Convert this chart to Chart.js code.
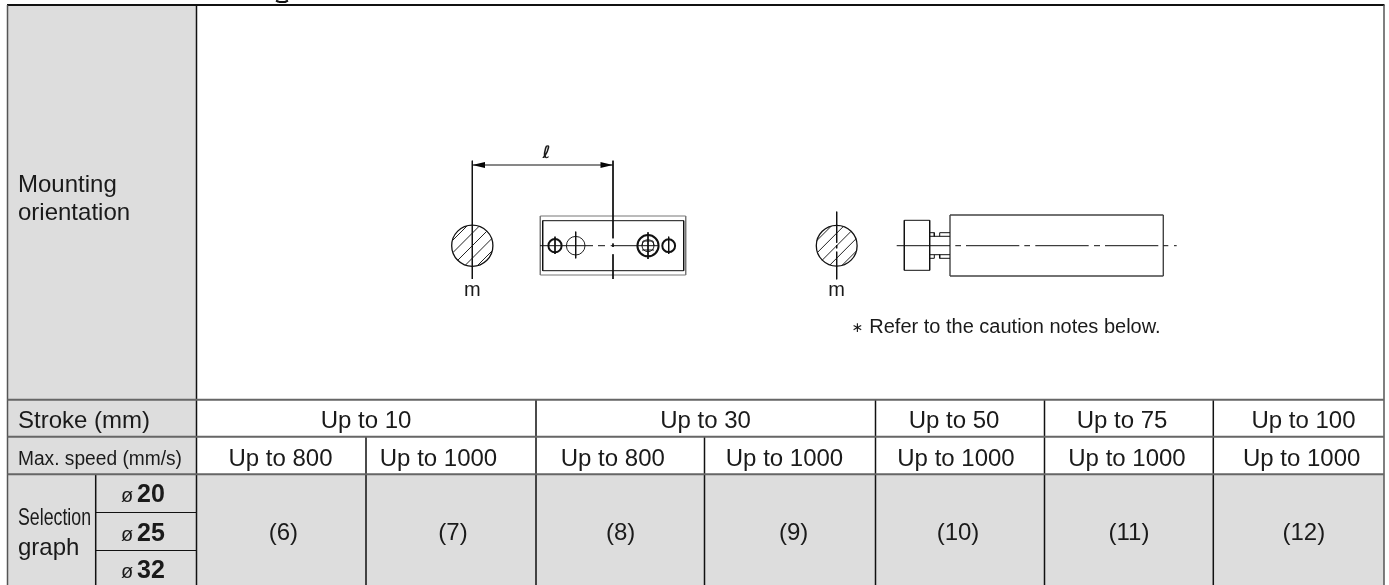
<!DOCTYPE html>
<html>
<head>
<meta charset="utf-8">
<style>
	html, body { margin: 0; padding: 0; background: #fff; }
	canvas { display: block; }
</style>
<script src="https://cdn.jsdelivr.net/npm/chart.js@4"></script>
</head>
<body>
<canvas id="mountingTable" width="1389" height="585"></canvas>
<script>
// table labels
var rowLabels = ['Mounting', 'orientation', 'Stroke (mm)', 'Max. speed (mm/s)', 'Selection', 'graph'];
var strokeLabels = ['Up to 10', 'Up to 30', 'Up to 50', 'Up to 75', 'Up to 100'];
var speedLabels = ['Up to 800', 'Up to 1000', 'Up to 800', 'Up to 1000', 'Up to 1000', 'Up to 1000', 'Up to 1000'];
var graphLabels = ['(6)', '(7)', '(8)', '(9)', '(10)', '(11)', '(12)'];
var boreLabels = ['20', '25', '32'];

// where the labels sit, in page units
var strokeCenters = [366, 705.5, 954, 1122, 1303.5];
var speedCenters = [280.5, 438.5, 612.8, 784.5, 956, 1127, 1301.7];
var graphCenters = [283.3, 453, 620.7, 793.7, 958, 1129, 1303.8];
var boreBaselines = [502, 540.5, 578];

// cell fills: x1, x2, top, bottom
var greyCells = [
	[7.5, 196.5, 6, 585],
	[196.5, 1384, 474, 585]
];

// table rules: x1, y1, x2, y2
var topRule = [[7, 5, 1384.5, 5]];
var greyRows = [[7.5, 399.7, 1384, 399.7], [7.5, 436.7, 1384, 436.7], [7.5, 474.3, 1384, 474.3]];
var outerEdges = [[7.5, 5, 7.5, 585], [1384, 5, 1384, 585]];
var columnRules = [
	[196.5, 5, 196.5, 585], [536, 400, 536, 585], [875.5, 400, 875.5, 585],
	[1044.5, 400, 1044.5, 585], [1213.3, 400, 1213.3, 585], [366, 437, 366, 585],
	[704.5, 437, 704.5, 585], [95.7, 474, 95.7, 585]
];
var boreRules = [[96, 512.5, 196, 512.5], [96, 550.5, 196, 550.5]];
var titleTail = [[276, 0.5, 279, 2], [279, 2, 285, 2], [285, 2, 288, 0.5]];

// left drawing (top view)
var topViewLines = [
	[472.3, 160.7, 472.3, 279], [613, 160.7, 613, 238.3], [613, 243.5, 613, 247], [613, 254.3, 613, 279],
	[472.3, 165, 613, 165],
	[542.7, 220.7, 683.7, 220.7], [542.7, 270.7, 683.7, 270.7], [542.7, 220.7, 542.7, 270.7], [683.7, 220.7, 683.7, 270.7],
	[540, 245.7, 593, 245.7], [598, 245.7, 605, 245.7], [610.7, 245.7, 637, 245.7],
	[555, 236.7, 555, 254], [575.7, 231.7, 575.7, 258.3], [648, 232.3, 648, 259], [668.7, 236.7, 668.7, 254],
	[637, 245.7, 659, 245.7], [643, 241, 653, 241], [642, 250, 654, 250], [642, 245.7, 643, 241], [653, 241, 654, 245.7]
];
var topViewFrame = [[540.3, 216, 685.7, 216], [540.3, 275, 685.7, 275], [540.3, 216, 540.3, 275], [685.7, 216, 685.7, 275]];
var leftHatch = [
	[452.5, 240.5, 467.1, 225.9], [453, 252.5, 479.1, 226.3], [457.8, 260.2, 486.8, 231.2],
	[465.5, 265, 491.6, 238.8], [477.5, 265.5, 492.1, 250.9]
];
// half triangles of the two arrow heads: x1, y1, x2, y2, base y
var arrowHeads = [
	[472.3, 165, 485, 162, 165], [472.3, 165, 485, 168, 165],
	[600.3, 162, 613, 165, 165], [600.3, 168, 613, 165, 165]
];

// right drawing (side view)
var sideViewLines = [
	[836.7, 211.7, 836.7, 242.7], [836.7, 245, 836.7, 248.3], [836.7, 251.7, 836.7, 279.3],
	[904.3, 220.3, 929.7, 220.3], [904.3, 270.3, 929.7, 270.3], [904.3, 220.3, 904.3, 270.3], [929.7, 220.3, 929.7, 270.3],
	[929.7, 236.3, 950, 236.3], [929.7, 254.7, 950, 254.7],
	[929.7, 232.7, 934.3, 232.7], [934.3, 232.7, 934.3, 236.3], [939.7, 236.3, 939.7, 232.7], [939.7, 232.7, 950, 232.7],
	[929.7, 258.3, 934.3, 258.3], [934.3, 258.3, 934.3, 254.7], [939.7, 254.7, 939.7, 258.3], [939.7, 258.3, 950, 258.3],
	[896.7, 245.7, 950, 245.7], [955.3, 245.7, 961, 245.7], [966, 245.7, 1019.3, 245.7], [1024.3, 245.7, 1030, 245.7],
	[1035.3, 245.7, 1088.7, 245.7], [1094, 245.7, 1100, 245.7], [1105, 245.7, 1158.3, 245.7],
	[1163.3, 245.7, 1168.3, 245.7], [1174, 245.7, 1176.7, 245.7]
];
var bodyLines = [[950, 215, 1163.3, 215], [950, 276, 1163.3, 276], [950, 215, 950, 276], [1163.3, 215, 1163.3, 276]];
var rightHatch = [
	[816.9, 240.5, 831.5, 225.9], [817.4, 252.5, 843.5, 226.3], [822.2, 260.2, 851.2, 231.2],
	[829.9, 265, 856, 238.8], [841.9, 265.5, 856.5, 250.9]
];

// circles: x, y, radius
var sectionCircles = [[472.3, 245.7, 20.6], [836.7, 245.7, 20.4]];
var heavyHoles = [[555, 245.7, 6.6], [648, 245.7, 10.6], [668.7, 245.7, 6.4]];
var thinHoles = [[575.7, 245.7, 9.3], [648, 245.7, 6]];

function pairs(segments) {
	var points = [];
	for (var i = 0; i < segments.length; i++) {
		var s = segments[i];
		points.push({ x: s[0], y: s[1] });
		points.push({ x: s[2], y: s[3] });
		points.push({ x: s[2], y: null });
	}
	return points;
}

function lineSet(segments, color, width) {
	return {
		data: pairs(segments),
		showLine: true,
		spanGaps: false,
		borderColor: color,
		borderWidth: width,
		pointRadius: 0,
		fill: false,
		order: 1
	};
}

function circleSet(circles, color, width) {
	return {
		data: circles.map(function (c) { return { x: c[0], y: c[1] }; }),
		showLine: false,
		pointStyle: 'circle',
		pointRadius: circles.map(function (c) { return c[2]; }),
		pointBorderColor: color,
		pointBorderWidth: width,
		pointBackgroundColor: 'rgba(0,0,0,0)',
		order: 1
	};
}

function bandSet(x1, y1, x2, y2, base, color, order) {
	return {
		data: [{ x: x1, y: y1 }, { x: x2, y: y2 }],
		showLine: true,
		borderWidth: 0,
		pointRadius: 0,
		backgroundColor: color,
		fill: { value: base },
		order: order
	};
}

var datasets = [];
greyCells.forEach(function (c) {
	datasets.push(bandSet(c[0], c[2], c[1], c[2], c[3], '#dddddd', 20));
});
arrowHeads.forEach(function (a) {
	datasets.push(bandSet(a[0], a[1], a[2], a[3], a[4], '#000000', 2));
});
datasets.push(lineSet(greyRows, '#666666', 2));
datasets.push(lineSet(outerEdges, '#555555', 1.5));
datasets.push(lineSet(columnRules, '#111111', 1.5));
datasets.push(lineSet(topRule, '#111111', 2.2));
datasets.push(lineSet(boreRules, '#111111', 1));
datasets.push(lineSet(titleTail, '#111111', 2));
datasets.push(lineSet(topViewLines, '#111111', 1));
datasets.push(lineSet(topViewFrame, '#777777', 1));
datasets.push(lineSet(leftHatch, '#222222', 1));
datasets.push(lineSet(sideViewLines, '#111111', 1));
datasets.push(lineSet(bodyLines, '#444444', 1.4));
datasets.push(lineSet(rightHatch, '#222222', 1));
datasets.push(circleSet(sectionCircles, '#111111', 1.3));
datasets.push(circleSet(heavyHoles, '#111111', 2));
datasets.push(circleSet(thinHoles, '#222222', 1));

var SANS = '"Liberation Sans", Arial, sans-serif';

// all the real text of the table, through the chart's scales
var tableText = {
	id: 'tableText',
	afterDraw: function (chart) {
		var ctx = chart.ctx;
		var sx = chart.scales.x;
		var sy = chart.scales.y;

		function put(text, x, y, font, align, maxWidth) {
			ctx.font = font;
			ctx.textAlign = align;
			ctx.textBaseline = 'alphabetic';
			ctx.fillStyle = '#1a1a1a';
			if (maxWidth) {
				ctx.fillText(text, sx.getPixelForValue(x), sy.getPixelForValue(y), maxWidth);
			} else {
				ctx.fillText(text, sx.getPixelForValue(x), sy.getPixelForValue(y));
			}
		}

		ctx.save();
		put(rowLabels[0], 18, 192, '24px ' + SANS, 'left');
		put(rowLabels[1], 18, 220, '24px ' + SANS, 'left');
		put(rowLabels[2], 18, 428, '24px ' + SANS, 'left');
		put(rowLabels[3], 18, 465, '19.5px ' + SANS, 'left', 164);
		put(rowLabels[4], 18, 525, '24px ' + SANS, 'left', 73);
		put(rowLabels[5], 18, 555, '24px ' + SANS, 'left');

		for (var i = 0; i < strokeLabels.length; i++) {
			put(strokeLabels[i], strokeCenters[i], 428, '24px ' + SANS, 'center');
		}
		for (var j = 0; j < speedLabels.length; j++) {
			put(speedLabels[j], speedCenters[j], 466, '24px ' + SANS, 'center');
			put(graphLabels[j], graphCenters[j], 539.5, '24px ' + SANS, 'center');
		}
		for (var k = 0; k < boreLabels.length; k++) {
			put('ø', 121, boreBaselines[k], '20px ' + SANS, 'left');
			put(boreLabels[k], 137, boreBaselines[k], 'bold 25px ' + SANS, 'left');
		}

		put('m', 472.3, 296, '20px ' + SANS, 'center');
		put('m', 836.7, 296, '20px ' + SANS, 'center');
		put('ℓ', 546.5, 158, 'italic bold 17px "DejaVu Sans"', 'center');
		put('∗', 857.7, 332, '14px "DejaVu Sans"', 'center');
		put('Refer to the caution notes below.', 869.3, 332.7, '20px ' + SANS, 'left');
		ctx.restore();
	}
};

var mountingChart = new Chart(document.getElementById('mountingTable'), {
	type: 'scatter',
	data: { datasets: datasets },
	options: {
		responsive: false,
		animation: false,
		events: [],
		layout: { padding: 0, autoPadding: false },
		clip: false,
		plugins: {
			legend: { display: false },
			title: { display: false },
			tooltip: { enabled: false }
		},
		scales: {
			x: { type: 'linear', display: false, min: 0, max: 1389 },
			y: { type: 'linear', display: false, min: 0, max: 585, reverse: true }
		}
	},
	plugins: [tableText]
});
</script>
</body>
</html>
